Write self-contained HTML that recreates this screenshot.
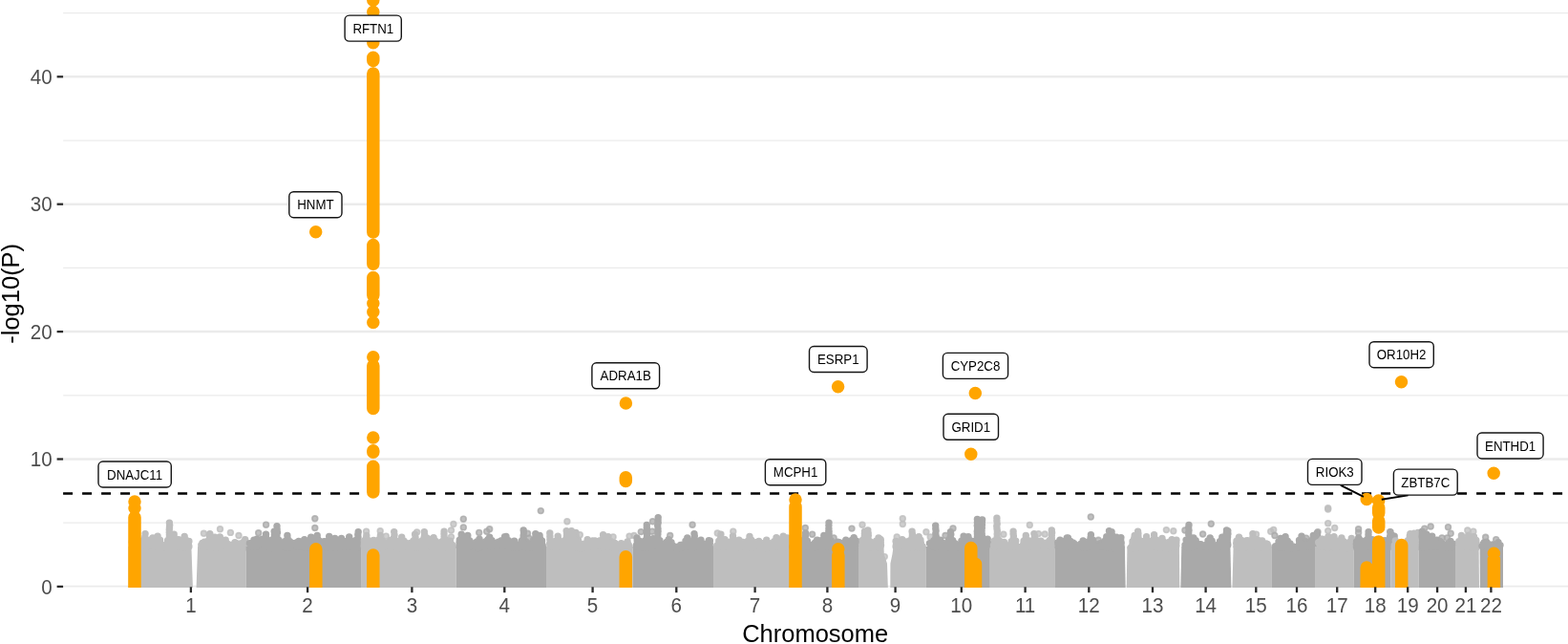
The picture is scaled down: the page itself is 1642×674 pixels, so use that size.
<!DOCTYPE html>
<html lang="en">
<head>
<meta charset="utf-8">
<title>Manhattan plot</title>
<style>
html,body{margin:0;padding:0;background:#fff;overflow:hidden}
svg{display:block}
text{font-family:"Liberation Sans",Arial,Helvetica,sans-serif}
.g path{fill:none;stroke-width:7.4px;stroke-linecap:round}
.g circle{r:2.9px;stroke-width:1.6px;stroke-opacity:.8;fill-opacity:.75}
.ax{font-size:20.6px;fill:#4d4d4d}
.ti{font-size:25.5px;fill:#000}
.lb{font-size:13.3px;fill:#000;text-anchor:middle}
.bx{fill:#fff;stroke:#151515;stroke-width:1.4}
</style>
</head>
<body>
<svg width="1642" height="674" viewBox="0 0 1642 674">
<rect width="1642" height="674" fill="#fff"/>
<defs><clipPath id="pc"><rect x="66.1" y="-20" width="1575.9" height="635"/></clipPath><clipPath id="gc"><rect x="66.1" y="-20" width="1575.9" height="634.4"/></clipPath></defs>
<g clip-path="url(#gc)" stroke="#ebebeb" fill="none">
<line x1="66.1" x2="1642" y1="547.2" y2="547.2" stroke-width="1.25"/>
<line x1="66.1" x2="1642" y1="413.8" y2="413.8" stroke-width="1.25"/>
<line x1="66.1" x2="1642" y1="280.4" y2="280.4" stroke-width="1.25"/>
<line x1="66.1" x2="1642" y1="147" y2="147" stroke-width="1.25"/>
<line x1="66.1" x2="1642" y1="13.6" y2="13.6" stroke-width="1.25"/>
<line x1="66.1" x2="1642" y1="613.9" y2="613.9" stroke-width="2.5"/>
<line x1="66.1" x2="1642" y1="480.5" y2="480.5" stroke-width="2.5"/>
<line x1="66.1" x2="1642" y1="347.1" y2="347.1" stroke-width="2.5"/>
<line x1="66.1" x2="1642" y1="213.7" y2="213.7" stroke-width="2.5"/>
<line x1="66.1" x2="1642" y1="80.3" y2="80.3" stroke-width="2.5"/>
</g>
<g clip-path="url(#pc)" class="g">
<path d="M134.5 572H200.4L202 617H134.5ZM207.1 572H257.7L257.7 617H205.5Z" style="fill:#bebebe;stroke:none"/>
<path d="M138.2 567.3h0M139.3 570.6h0M140.4 569.4h0M141.5 570.2h0M142.6 568.6h0M143.7 569.5h0M144.8 569.6h0M145.9 569.7h0M147 570.3h0M148.1 569.1h0M149.2 569h0M150.3 570.3h0M151.4 567.2h0M152.5 570.7h0M153.6 570.1h0M154.7 566.3h0M155.8 569.5h0M156.9 569.7h0M158 568.2h0M159.1 569.4h0M160.2 570.1h0M161.3 569.9h0M162.4 569.3h0M163.5 569.4h0M164.6 571.5h0M165.7 571.9h0M166.8 572.2h0M167.9 569h0M169 570.3h0M170.1 573.3h0M171.2 573.1h0M172.3 572.1h0M173.4 572.5h0M174.5 572.1h0M175.6 572.4h0M176.7 571.9h0M177.8 568.9h0M178.9 569.7h0M180 570.1h0M181.1 571.1h0M182.2 570.9h0M183.3 571h0M184.4 571.2h0M185.5 571.8h0M186.6 570h0M187.7 571.9h0M188.8 571h0M189.9 572.1h0M191 571.7h0M192.1 569h0M193.2 570.8h0M194.3 571.1h0M195.4 569.7h0M196.5 566.3h0M196.7 572h0M210.8 570.5h0M211.9 568.4h0M213 571.6h0M214.1 567.1h0M215.2 569.8h0M216.3 571.2h0M217.4 570.5h0M218.5 571.9h0M219.6 569h0M220.7 571.3h0M221.8 572.2h0M222.9 569.9h0M224 571.6h0M225.1 569.7h0M226.2 570.1h0M227.3 571h0M228.4 569.2h0M229.5 570.2h0M230.6 569.4h0M231.7 566.8h0M232.8 567.9h0M233.9 569.1h0M235 567.9h0M236.1 569.1h0M237.2 569.9h0M238.3 570.4h0M239.4 570.9h0M240.5 570.1h0M241.6 571.6h0M242.7 571h0M243.8 571.4h0M244.9 570.3h0M246 567.8h0M247.1 572.2h0M248.2 571.8h0M249.3 569.2h0M250.4 570.6h0M251.5 569h0M252.6 570h0M253.7 571.9h0M254 572h0M152.1 558.6h0M151.8 561.8h0M151.7 564.1h0M152.2 567.4h0M152 570h0M152.2 572.6h0M150 565.5h0M149.6 567.7h0M150 570.8h0M154 565.5h0M154.2 568.7h0M154.1 571.8h0M159.9 562.9h0M159.8 565.4h0M159.6 567.9h0M159.9 571h0M157.8 565.3h0M157.9 567.7h0M157.5 570.3h0M162.3 566.4h0M162.1 568.8h0M162.3 571.1h0M165.1 561.1h0M165.2 563.7h0M165.4 566.7h0M165.6 569.5h0M165.2 572.1h0M163 566.1h0M163.1 568.5h0M162.9 571.8h0M167.5 565.3h0M167.5 567.8h0M167.8 570h0M167.8 572.5h0M177.4 547.1h0M177.7 549.6h0M177.5 551.9h0M177.3 554.2h0M177.3 557.2h0M177.4 559.8h0M177.4 562.2h0M177.5 565.5h0M177.4 568.7h0M177.6 571.7h0M175.6 565.8h0M175.1 568.4h0M175.5 571.4h0M179.5 566.8h0M179.6 569.3h0M179.7 571.6h0M182.2 559.2h0M182.6 562.6h0M182.6 565.3h0M182.1 567.6h0M182.1 570.8h0M180 566.4h0M180.3 569.8h0M180.1 572.1h0M184.3 566.4h0M184.4 569.1h0M184.8 571.5h0M187 564.7h0M187.2 567.6h0M187.3 570.7h0M184.9 568.2h0M185.3 571.4h0M189.6 567.8h0M189.3 570.2h0M189.7 572.6h0M193.2 561.4h0M193.4 564.6h0M193.4 567.6h0M193.5 569.9h0M193.4 572.8h0M191.4 565.3h0M191.4 568.3h0M191.1 571.6h0M195.4 565.6h0M195.6 568.9h0M195.8 571.5h0M197.9 566.5h0M197.4 569.3h0M197.9 572h0M195.4 569.8h0M214.2 568h0M214.1 571.3h0M211.7 571.3h0M216.5 571.2h0M219.8 558.6h0M219.4 560.9h0M219.7 563.1h0M219.4 565.9h0M219.3 568.8h0M219.3 572.2h0M217.4 566.4h0M217.6 568.6h0M217.6 571.1h0M221.5 566.8h0M221.8 570.1h0M225 562.3h0M225.3 564.7h0M224.9 567.9h0M225.2 570.4h0M224.8 572.8h0M223 566.3h0M223 568.9h0M222.8 572h0M227 566.6h0M227.1 569.4h0M227.1 572h0M230.3 561.9h0M230.6 565.1h0M230.3 567.4h0M230.7 570.8h0M228.6 566.7h0M228.1 569.6h0M228.3 572.8h0M232.5 565.2h0M232.9 568.3h0M232.4 570.7h0M236.2 565.3h0M235.9 568.7h0M235.9 571.1h0M233.5 568.9h0M233.9 571.3h0M238.3 569.2h0M238.1 571.7h0M256.7 564.7h0M256.7 567.1h0M256.7 570.3h0M256.9 572.9h0M254.4 567.8h0M254.6 570.8h0" stroke="#bebebe"/>
<g fill="#bebebe" stroke="#bebebe"><circle cx="213.4" cy="558.3" r="2.9"/><circle cx="230.5" cy="553.8" r="2.9"/><circle cx="241.4" cy="557.4" r="2.9"/><circle cx="250" cy="560.5" r="2.9"/></g>
<path d="M257.7 572H378.7L378.7 617H257.7Z" style="fill:#a9a9a9;stroke:none"/>
<path d="M261.4 568.6h0M262.5 569.2h0M263.6 569h0M264.7 568.2h0M265.8 570.3h0M266.9 569.4h0M268 568.3h0M269.1 564.1h0M270.2 567.9h0M271.3 568.9h0M272.4 569h0M273.5 568.9h0M274.6 564.3h0M275.7 569.7h0M276.8 570h0M277.9 569.5h0M279 571.1h0M280.1 570h0M281.2 570.8h0M282.3 567.6h0M283.4 569.4h0M284.5 573.4h0M285.6 573.8h0M286.7 573.4h0M287.8 570.5h0M288.9 573.4h0M290 572.4h0M291.1 572.9h0M292.2 572.6h0M293.3 572.5h0M294.4 572.1h0M295.5 567.9h0M296.6 571.1h0M297.7 570.3h0M298.8 572.6h0M299.9 571.4h0M301 572.9h0M302.1 573h0M303.2 572h0M304.3 571h0M305.4 569h0M306.5 569.6h0M307.6 568.6h0M308.7 568.4h0M309.8 568.7h0M310.9 568h0M312 569.7h0M313.1 570.6h0M314.2 569.7h0M315.3 571.2h0M316.4 571.9h0M317.5 570h0M318.6 570.5h0M319.7 573.1h0M320.8 573.1h0M321.9 573.2h0M323 573h0M324.1 572.9h0M325.2 572.7h0M326.3 571.8h0M327.4 570.6h0M328.5 571.5h0M329.6 571.9h0M330.7 569.4h0M331.8 572h0M332.9 566.2h0M334 571.2h0M335.1 569.1h0M336.2 568.8h0M337.3 571.5h0M338.4 569.2h0M339.5 566.8h0M340.6 570.4h0M341.7 569.2h0M342.8 569h0M343.9 570.3h0M345 569.1h0M346.1 569h0M347.2 569h0M348.3 567.6h0M349.4 568.9h0M350.5 568.6h0M351.6 568.9h0M352.7 568.7h0M353.8 570.7h0M354.9 569.9h0M356 570.8h0M357.1 570.6h0M358.2 569.8h0M359.3 571.7h0M360.4 568.7h0M361.5 568.3h0M362.6 571.5h0M363.7 569.4h0M364.8 571.2h0M365.9 571.4h0M367 571.4h0M368.1 569.5h0M369.2 571h0M370.3 572.3h0M371.4 571.7h0M372.5 570.9h0M373.6 572.6h0M374.7 572.8h0M375 572h0M265.9 565.3h0M265.8 567.9h0M265.6 571.1h0M263.6 569.2h0M263.3 572h0M268 569.2h0M268 572h0M278.5 559.2h0M278.5 562.5h0M278.7 564.8h0M278.6 568.1h0M278.7 570.9h0M276.2 565.2h0M276.3 567.5h0M276.5 570.9h0M280.8 565.8h0M280.9 568.6h0M280.6 571.8h0M287.2 556.2h0M287.4 559.2h0M287.3 562h0M287 564.5h0M287.1 566.9h0M287.4 569.7h0M287 572.1h0M284.8 565.3h0M285.1 567.7h0M285.2 569.9h0M289.4 565.7h0M289.5 568.1h0M289.5 570.4h0M290 550.7h0M290.1 553.9h0M290.5 557.2h0M289.9 560h0M290 562.6h0M290.1 565.6h0M290.2 568.3h0M290.2 570.5h0M288.1 566.3h0M287.8 568.5h0M287.9 571.7h0M292.1 565.5h0M292.4 568.1h0M292.6 570.9h0M300.9 560.5h0M301.1 563.2h0M301.4 566.2h0M301.3 568.8h0M300.9 571.8h0M299.1 566.3h0M299.1 568.8h0M299.2 571.7h0M303.5 566.7h0M303.5 569.3h0M303.3 572.2h0M312.8 566.5h0M312.7 569.9h0M312.8 572.3h0M310.3 569.8h0M310.5 572h0M315 569.8h0M315.1 572.1h0M318.8 564.7h0M318.5 567.3h0M318.7 570.4h0M316.6 568.3h0M316.8 571.1h0M320.9 568h0M320.9 571.3h0M325.7 562.3h0M325.6 564.9h0M325.4 567.6h0M325.6 570.2h0M323.4 566.4h0M323.5 569.3h0M323.6 572.1h0M327.5 566.7h0M328 569.3h0M327.6 572h0M332.2 560.5h0M332.6 563.7h0M332.5 567h0M332.4 569.5h0M332.7 572.1h0M330.5 566.7h0M330.2 569.2h0M330.4 572.2h0M334.9 566.4h0M334.3 569.6h0M334.9 572.7h0M344.7 561.4h0M344.8 564.5h0M344.7 567.2h0M344.6 569.5h0M344.7 572.5h0M342.5 566.4h0M342.4 569.3h0M342.4 572.7h0M347.1 565.8h0M346.5 568.9h0M346.6 572.2h0M350.7 563.5h0M350.4 566.3h0M350.5 569.4h0M350.5 572.5h0M348.7 566.7h0M348.6 569.7h0M348.8 572.6h0M352.9 566.5h0M353 569.3h0M353 571.6h0M357.5 563.5h0M357.5 565.7h0M357.1 569.1h0M357.4 571.3h0M355.1 567.4h0M355.3 569.7h0M355 572.8h0M359.6 566.3h0M359.7 569.1h0M359.8 572.1h0M365.7 561.9h0M365.8 564.7h0M366.2 566.9h0M365.7 569.9h0M365.8 572.2h0M363.7 566.8h0M363.9 570.1h0M368 566.3h0M368.3 569h0M368.3 572h0M375.2 556.8h0M374.8 559.5h0M375 562.2h0M374.8 564.8h0M374.8 567.2h0M374.9 569.6h0M375.1 572h0M372.7 565.5h0M373.1 568.5h0M373 571.6h0" stroke="#a9a9a9"/>
<g fill="#a9a9a9" stroke="#a9a9a9"><circle cx="270.7" cy="557.8" r="2.9"/><circle cx="278.6" cy="549.2" r="2.9"/><circle cx="329.8" cy="542.8" r="2.9"/><circle cx="329.8" cy="552.5" r="2.9"/></g>
<path d="M378.7 572H477.6L477.6 617H378.7Z" style="fill:#bebebe;stroke:none"/>
<path d="M382.4 569.9h0M383.5 573h0M384.6 570.8h0M385.7 570.8h0M386.8 573h0M387.9 572.3h0M389 571.4h0M390.1 572.2h0M391.2 565.4h0M392.3 571.3h0M393.4 571.3h0M394.5 571.9h0M395.6 571h0M396.7 569.4h0M397.8 571.1h0M398.9 572.5h0M400 572.7h0M401.1 572.6h0M402.2 572.1h0M403.3 569.3h0M404.4 567.9h0M405.5 570h0M406.6 571.2h0M407.7 570h0M408.8 565.5h0M409.9 570.1h0M411 567.2h0M412.1 568.4h0M413.2 569.9h0M414.3 570.9h0M415.4 569.2h0M416.5 571.9h0M417.6 571.8h0M418.7 572.5h0M419.8 573.7h0M420.9 572.6h0M422 572.1h0M423.1 571.7h0M424.2 568h0M425.3 570.5h0M426.4 572.4h0M427.5 569.5h0M428.6 568.6h0M429.7 572.1h0M430.8 569.9h0M431.9 571.3h0M433 573h0M434.1 572.7h0M435.2 570.7h0M436.3 571.5h0M437.4 572.8h0M438.5 570.1h0M439.6 571.7h0M440.7 572.3h0M441.8 567h0M442.9 570h0M444 566.9h0M445.1 567.8h0M446.2 569.4h0M447.3 563.2h0M448.4 569.2h0M449.5 567.5h0M450.6 569h0M451.7 565.5h0M452.8 565.9h0M453.9 568h0M455 570.9h0M456.1 571.6h0M457.2 570.1h0M458.3 571.7h0M459.4 571.2h0M460.5 571.2h0M461.6 571.1h0M462.7 571.2h0M463.8 571h0M464.9 571.4h0M466 570.7h0M467.1 568.8h0M468.2 570.5h0M469.3 568.7h0M470.4 572.2h0M471.5 566.3h0M472.6 571.1h0M473.7 570.5h0M473.9 572h0M383.8 560.5h0M383.6 562.8h0M383.8 565.9h0M383.4 568.7h0M383.9 571.9h0M381.3 566h0M381.4 568.9h0M381.2 571.4h0M385.9 565.8h0M385.7 568.9h0M385.9 571.1h0M398.4 560.5h0M398.1 562.9h0M398.4 566.2h0M398 569.3h0M398.2 572.3h0M395.8 565.5h0M396 568.8h0M395.8 572.1h0M400.6 566.1h0M400.2 569.4h0M400.2 571.7h0M412.7 556.6h0M413 559.9h0M412.7 562.4h0M413.1 565.7h0M413.1 568.1h0M413 571.2h0M410.4 565.5h0M410.9 568.1h0M410.9 571.1h0M415 566.5h0M415.1 569.7h0M414.9 572.6h0M420.7 562.3h0M420.6 565.5h0M420.6 568h0M420.6 570.3h0M418.8 566.2h0M418.3 568.5h0M418.7 571.6h0M423 566.1h0M423.2 568.5h0M423.1 571.5h0M434.6 559.2h0M435 562.4h0M434.7 565h0M434.8 568.2h0M434.8 571.4h0M432.8 566.3h0M432.6 569.4h0M432.7 572.3h0M436.7 566.6h0M437.1 570h0M437.2 572.3h0M444.3 556.6h0M444.6 559.5h0M444.2 562.2h0M444.3 565.3h0M444.6 568.5h0M444.7 571.2h0M442.3 565.8h0M442.2 569h0M442.1 571.3h0M446.5 566h0M446.4 568.8h0M446.5 571.4h0M454.1 562.6h0M454.4 565.6h0M454.3 568h0M454.3 570.5h0M452.1 566h0M452.2 569.1h0M452 572.3h0M456.3 566.4h0M456.2 569.7h0M456.2 572.2h0M465.1 556.2h0M465 558.7h0M465.1 561.4h0M464.9 564.8h0M465.2 567.6h0M465.4 569.8h0M463.1 566.7h0M463.1 570h0M463.2 572.4h0M467.2 565.5h0M467.5 567.7h0M467.4 570.3h0M467.7 572.8h0" stroke="#bebebe"/>
<g fill="#bebebe" stroke="#bebebe"><circle cx="383.6" cy="556.2" r="2.9"/><circle cx="398.2" cy="555.8" r="2.9"/><circle cx="404.3" cy="561.1" r="2.9"/><circle cx="436.6" cy="557" r="2.9"/><circle cx="474.9" cy="548.5" r="2.9"/><circle cx="472.5" cy="555" r="2.9"/><circle cx="472.5" cy="561.9" r="2.9"/></g>
<path d="M477.6 572H572L572 617H477.6Z" style="fill:#a9a9a9;stroke:none"/>
<path d="M481.3 572.4h0M482.4 572.3h0M483.5 570.6h0M484.6 570.1h0M485.7 570.4h0M486.8 570.9h0M487.9 571h0M489 568.5h0M490.1 567.7h0M491.2 569.8h0M492.3 566.9h0M493.4 570.3h0M494.5 571.1h0M495.6 569h0M496.7 570.8h0M497.8 572.2h0M498.9 572.5h0M500 572.7h0M501.1 573.6h0M502.2 573.1h0M503.3 571.2h0M504.4 571.9h0M505.5 571.9h0M506.6 570.6h0M507.7 569.9h0M508.8 566.7h0M509.9 570.9h0M511 564.6h0M512.1 567.1h0M513.2 569.6h0M514.3 569.1h0M515.4 569.9h0M516.5 569.9h0M517.6 570.2h0M518.7 569.9h0M519.8 570.4h0M520.9 568.3h0M522 567.1h0M523.1 568.9h0M524.2 570.1h0M525.3 565.8h0M526.4 569.4h0M527.5 568.5h0M528.6 568.1h0M529.7 566.3h0M530.8 569.8h0M531.9 569h0M533 569.9h0M534.1 571h0M535.2 569.2h0M536.3 568.2h0M537.4 572.8h0M538.5 572.4h0M539.6 572.8h0M540.7 573.2h0M541.8 573h0M542.9 570.7h0M544 571.2h0M545.1 571.3h0M546.2 571.6h0M547.3 571.3h0M548.4 569.1h0M549.5 570.1h0M550.6 570.9h0M551.7 573.2h0M552.8 573.1h0M553.9 573.2h0M555 571.1h0M556.1 569.3h0M557.2 572.5h0M558.3 572.3h0M559.4 571.9h0M560.5 571.2h0M561.6 570.1h0M562.7 570.1h0M563.8 568.8h0M564.9 568.6h0M566 569.7h0M567.1 566.1h0M568.2 570.9h0M568.3 572h0M483.2 559.2h0M483.2 562.6h0M483.5 565.3h0M483.4 568.3h0M483.6 571.6h0M481.3 565.3h0M481.1 567.7h0M481 570.8h0M485.6 566.6h0M485.7 569.5h0M485.9 572.4h0M489.8 560.5h0M489.7 563.4h0M489.6 566h0M489.4 568.6h0M489.6 571h0M487.6 566.8h0M487.4 569h0M487.6 572h0M491.8 566h0M491.5 568.5h0M491.7 571.7h0M502 564.1h0M501.9 567.2h0M501.6 570.1h0M499.4 566.9h0M499.3 569.4h0M499.7 572.7h0M504.1 568h0M504.2 570.5h0M512.7 562.3h0M512.5 565.1h0M512.4 568.1h0M512.6 571h0M510.8 565.7h0M510.5 568.7h0M510.7 571.2h0M515.1 565.8h0M515.1 569.1h0M514.9 571.7h0M528.6 561.7h0M528.7 564.2h0M528.6 567.4h0M528.7 570.6h0M526.4 566h0M526.5 568.8h0M526.3 571.2h0M530.9 565.7h0M530.7 568.3h0M531 571.6h0M530 561.4h0M530 564.5h0M530 567.7h0M530.3 570.8h0M528.1 566.7h0M527.5 569.8h0M532.4 565.8h0M532 568.6h0M531.9 571.8h0M538.6 566.3h0M538.7 569.1h0M538.3 572.3h0M536.3 568.7h0M536.5 571.9h0M541 570.1h0M541 572.8h0M548.2 555h0M548.5 557.3h0M548.2 560.5h0M548.1 562.8h0M548.4 566.2h0M548.3 568.7h0M548.4 571.2h0M546.2 566.3h0M546 568.7h0M546.1 572h0M550.6 566.6h0M550.2 569.1h0M550.6 571.5h0M560.8 558.6h0M560.9 561.2h0M561.1 563.6h0M561.3 566.6h0M561.2 569.5h0M561.3 572.1h0M558.8 565.3h0M559 568.2h0M559.1 571h0M563.4 566.2h0M563.1 569h0M563 571.9h0M565.1 560.5h0M565.4 563.2h0M565.6 566.2h0M565.6 569.5h0M565.6 572.9h0M563.2 566.2h0M563.2 569h0M563.2 571.4h0M567.5 566h0M567.5 568.5h0M567.5 571.6h0" stroke="#a9a9a9"/>
<g fill="#a9a9a9" stroke="#a9a9a9"><circle cx="485.3" cy="543.2" r="2.9"/><circle cx="485.3" cy="551.9" r="2.9"/><circle cx="501.7" cy="557.4" r="2.9"/><circle cx="509.7" cy="556.2" r="2.9"/><circle cx="512.7" cy="553.8" r="2.9"/><circle cx="566.3" cy="534.6" r="2.9"/><circle cx="552.5" cy="558.3" r="2.9"/><circle cx="553.8" cy="563.1" r="2.9"/></g>
<path d="M572 572H662.7L662.7 617H572Z" style="fill:#bebebe;stroke:none"/>
<path d="M575.7 568.9h0M576.8 570.1h0M577.9 569.4h0M579 569.9h0M580.1 567.7h0M581.2 567h0M582.3 568.9h0M583.4 567.5h0M584.5 568.2h0M585.6 566.9h0M586.7 570.6h0M587.8 570.9h0M588.9 569.5h0M590 570.2h0M591.1 571.4h0M592.2 571.6h0M593.3 568.6h0M594.4 570.3h0M595.5 571.1h0M596.6 570.1h0M597.7 571.3h0M598.8 565h0M599.9 571.7h0M601 572.1h0M602.1 571.5h0M603.2 570.9h0M604.3 572.6h0M605.4 573.3h0M606.5 572.4h0M607.6 574.3h0M608.7 572.2h0M609.8 569.5h0M610.9 573.4h0M612 571.8h0M613.1 572.4h0M614.2 571.7h0M615.3 567h0M616.4 570.9h0M617.5 570.8h0M618.6 568h0M619.7 569.1h0M620.8 570.4h0M621.9 569.4h0M623 566h0M624.1 570.1h0M625.2 569.2h0M626.3 570.3h0M627.4 570.2h0M628.5 565.8h0M629.6 570.7h0M630.7 570.6h0M631.8 566.3h0M632.9 570.9h0M634 570.3h0M635.1 570.5h0M636.2 571.2h0M637.3 571.5h0M638.4 567.3h0M639.5 572.2h0M640.6 571.9h0M641.7 572.8h0M642.8 573.1h0M643.9 568.5h0M645 573.5h0M646.1 572.9h0M647.2 572.6h0M648.3 571.8h0M649.4 569.7h0M650.5 568.7h0M651.6 571.2h0M652.7 571h0M653.8 569.6h0M654.9 570.3h0M656 570.4h0M657.1 566.9h0M658.2 570.2h0M659 572h0M575.8 558h0M575.9 561.4h0M575.9 564.6h0M576.1 567.4h0M575.8 570.6h0M578 566.6h0M578.1 568.9h0M578.4 572h0M584.2 561.1h0M584.4 563.5h0M584 566.8h0M584.3 569.2h0M583.9 572h0M582.2 566.3h0M581.8 569.4h0M582 572.4h0M586.2 566.8h0M586.2 569.8h0M593.2 555.6h0M593.5 557.9h0M593.5 561.2h0M593.3 563.6h0M593.3 566.2h0M593.3 568.5h0M593.2 571.1h0M591.4 565.7h0M590.9 569.1h0M591.2 571.3h0M595.7 566.8h0M595.4 569.2h0M595.3 572.5h0M598.4 555.6h0M598.3 558h0M598.3 560.5h0M598.1 563h0M598.4 566.2h0M597.9 568.6h0M598.2 571.6h0M596 566.6h0M595.8 569.7h0M596 572.5h0M600.2 565.7h0M600.6 568.7h0M600.3 572h0M603 557.4h0M603.1 560.4h0M603.3 562.6h0M603.4 565.7h0M602.9 568.8h0M602.9 571.4h0M601 566.7h0M601 569.5h0M600.9 572h0M605.5 565.2h0M605.1 567.6h0M605.3 570.9h0M615.2 564.7h0M615.2 567.9h0M615.3 571h0M613.2 568.6h0M613.1 571.1h0M617.2 568.6h0M617.4 571.9h0M620.8 565.9h0M620.9 568.9h0M620.5 572h0M618.5 569.1h0M618.6 572.1h0M622.8 568.8h0M623 572.2h0M631.6 559.8h0M631.8 562.1h0M631.4 565.5h0M631.8 568.2h0M631.9 570.5h0M631.8 573h0M629.8 565.8h0M629.8 568h0M629.4 570.7h0M633.7 566.4h0M633.7 568.7h0M634.2 571h0M636.9 561.7h0M637.1 564.5h0M637.4 567.4h0M637.1 569.9h0M634.9 566.3h0M635.1 568.5h0M634.8 571.1h0M639.5 566.8h0M639.5 569.2h0M639.2 571.4h0" stroke="#bebebe"/>
<g fill="#bebebe" stroke="#bebebe"><circle cx="593.9" cy="545.8" r="2.9"/><circle cx="607.3" cy="559.8" r="2.9"/><circle cx="642.1" cy="561.9" r="2.9"/><circle cx="659.1" cy="561.1" r="2.9"/><circle cx="664" cy="560.5" r="2.9"/></g>
<path d="M662.7 572H747L747 617H662.7Z" style="fill:#a9a9a9;stroke:none"/>
<path d="M666.4 570.6h0M667.5 572.2h0M668.6 569.6h0M669.7 572.3h0M670.8 571.7h0M671.9 573.3h0M673 571.2h0M674.1 570.7h0M675.2 572.6h0M676.3 570.8h0M677.4 569.9h0M678.5 570.7h0M679.6 571.4h0M680.7 570.2h0M681.8 568.4h0M682.9 567.9h0M684 563.8h0M685.1 569.9h0M686.2 569.1h0M687.3 569.2h0M688.4 571.5h0M689.5 570.7h0M690.6 572.5h0M691.7 571.7h0M692.8 573.1h0M693.9 572.8h0M695 570.4h0M696.1 572.5h0M697.2 568.7h0M698.3 572.1h0M699.4 570.9h0M700.5 571h0M701.6 571.9h0M702.7 569.9h0M703.8 571.1h0M704.9 571.7h0M706 572.3h0M707.1 572.3h0M708.2 574h0M709.3 573h0M710.4 573.4h0M711.5 573.7h0M712.6 570.5h0M713.7 572.7h0M714.8 570.1h0M715.9 571.5h0M717 570.5h0M718.1 570.1h0M719.2 565.1h0M720.3 569.7h0M721.4 566.7h0M722.5 570h0M723.6 567.6h0M724.7 566.4h0M725.8 570.6h0M726.9 570.2h0M728 570.1h0M729.1 570.9h0M730.2 569.9h0M731.3 571.2h0M732.4 571.1h0M733.5 571h0M734.6 570.8h0M735.7 569.2h0M736.8 570.2h0M737.9 570.7h0M739 570.7h0M740.1 570.2h0M741.2 568.1h0M742.3 565.8h0M743.3 572h0M667 562.9h0M667.2 566h0M667.3 568.4h0M667.1 570.8h0M669.5 566.1h0M668.9 568.9h0M669.3 571.4h0M677.3 549.5h0M677.3 551.9h0M677.5 554.5h0M677.2 557h0M677.6 560h0M677.4 562.4h0M677.3 564.7h0M677.7 567.4h0M677.2 570.2h0M675.4 565.9h0M675.2 568.2h0M675.2 571.1h0M679.3 566.5h0M679.5 569.3h0M679.6 572.5h0M689.2 541.6h0M689.1 544h0M689.2 547h0M688.7 550.1h0M689 553.4h0M689.1 555.9h0M688.9 558.9h0M688.7 561.9h0M688.7 564.8h0M688.8 567.8h0M688.7 570.5h0M686.5 565.6h0M686.9 568.1h0M686.9 570.9h0M690.9 565.7h0M691.2 568.3h0M691 570.7h0M700.2 564.7h0M700.7 567.4h0M700.5 570.3h0M698.3 567.2h0M698.1 569.5h0M698.4 572.3h0M703 567.8h0M702.7 571.1h0M719.8 562.9h0M720.3 566.3h0M720.2 569.2h0M720.3 571.7h0M718 566.1h0M717.8 568.7h0M717.7 571.3h0M722.3 565.9h0M722.3 569.1h0M722.1 571.3h0M727 558.6h0M727.3 561h0M727.3 564.1h0M727.5 566.9h0M727.1 569.4h0M727.2 572.6h0M725.2 566.2h0M725 569.2h0M725.3 571.8h0M729.8 566.7h0M729.3 569.2h0M729.4 572h0M734 565.3h0M734.4 568.3h0M734.3 570.8h0M732.4 568.8h0M731.8 572.1h0M736.3 569.2h0M736.5 571.9h0M743.4 565.9h0M743.3 568.7h0M743.2 571.7h0M741 568.9h0M741.4 571.9h0" stroke="#a9a9a9"/>
<g fill="#a9a9a9" stroke="#a9a9a9"><circle cx="671.3" cy="556.6" r="2.9"/><circle cx="683.5" cy="545.8" r="2.9"/><circle cx="682.9" cy="556.2" r="2.9"/><circle cx="725.1" cy="549.2" r="2.9"/><circle cx="701.7" cy="560.5" r="2.9"/></g>
<path d="M747 572H826.2L826.2 617H747Z" style="fill:#bebebe;stroke:none"/>
<path d="M750.7 571.2h0M751.8 571.1h0M752.9 569.5h0M754 567.9h0M755.1 570.3h0M756.2 570.7h0M757.3 569.8h0M758.4 571.1h0M759.5 570h0M760.6 569.1h0M761.7 572.2h0M762.8 568.8h0M763.9 572h0M765 571.7h0M766.1 572.5h0M767.2 572.4h0M768.3 568.8h0M769.4 571.2h0M770.5 569.1h0M771.6 570.5h0M772.7 568.2h0M773.8 568.2h0M774.9 567.9h0M776 570.1h0M777.1 567.3h0M778.2 570.6h0M779.3 570h0M780.4 570.6h0M781.5 569.5h0M782.6 570.6h0M783.7 571.4h0M784.8 569.2h0M785.9 571.2h0M787 569.9h0M788.1 569.6h0M789.2 570.6h0M790.3 567.8h0M791.4 568.4h0M792.5 567.4h0M793.6 571.2h0M794.7 566.5h0M795.8 572.4h0M796.9 572.8h0M798 573.4h0M799.1 573.6h0M800.2 574h0M801.3 569.5h0M802.4 571.6h0M803.5 571.9h0M804.6 573h0M805.7 572.7h0M806.8 569.9h0M807.9 571.7h0M809 571.9h0M810.1 570.9h0M811.2 571.2h0M812.3 571.9h0M813.4 570.2h0M814.5 571.1h0M815.6 571.2h0M816.7 568h0M817.8 572.4h0M818.9 568.5h0M820 571.6h0M821.1 570.6h0M822.2 571.4h0M822.5 572h0M754.9 559.2h0M754.7 562.6h0M755 565.6h0M755 569h0M754.9 571.5h0M752.8 566.2h0M752.6 569.3h0M752.8 572.2h0M756.9 565.9h0M757.1 568.4h0M757.4 571.4h0M759.1 564.7h0M759.1 567.8h0M759.5 571.1h0M757.2 568.3h0M757.2 570.8h0M761.4 568.4h0M761.2 570.6h0M767.5 561.1h0M768 564.2h0M767.5 566.5h0M767.9 569h0M767.7 571.3h0M765.6 566.7h0M765.5 569h0M765.3 572.1h0M770.1 566.7h0M769.9 570h0M770.1 572.3h0M773.9 565.3h0M774 567.7h0M774 570.2h0M773.7 572.5h0M771.7 568.6h0M771.8 572h0M775.9 567.7h0M776.3 570.1h0M775.9 572.6h0M785 561.4h0M784.7 564.5h0M785 566.9h0M784.6 569.3h0M784.5 572.2h0M782.6 566.8h0M782.7 569.5h0M782.8 572.5h0M786.8 565.3h0M786.8 567.8h0M786.7 570.2h0M787 572.9h0M802.7 565.3h0M802.7 567.8h0M802.2 570.5h0M800.3 568.5h0M800.3 571.8h0M804.6 568.2h0M804.6 570.7h0M813 562.6h0M812.8 565.7h0M812.9 568.7h0M813.1 571.3h0M810.7 566.6h0M810.7 569.7h0M810.8 572.4h0M814.9 565.5h0M814.8 567.9h0M815.1 570.4h0M820.2 561.1h0M820.1 563.9h0M820.3 567.2h0M820.4 570h0M820.2 572.9h0M817.8 565.8h0M818.2 568h0M817.7 571.4h0M822.5 565.6h0M822.2 568.5h0M822.5 570.7h0M824.4 562.9h0M824.6 565.3h0M824.2 568h0M824.6 570.8h0M822.5 565.4h0M822.1 567.9h0M822.1 570.1h0M822 572.5h0" stroke="#bebebe"/>
<g fill="#bebebe" stroke="#bebebe"><circle cx="751.3" cy="558" r="2.9"/><circle cx="767.8" cy="556.2" r="2.9"/></g>
<path d="M826.2 572H899L899 617H826.2Z" style="fill:#a9a9a9;stroke:none"/>
<path d="M829.9 571.6h0M831 567.7h0M832.1 569.9h0M833.2 569.6h0M834.3 566.1h0M835.4 567.9h0M836.5 569.2h0M837.6 568.5h0M838.7 569.8h0M839.8 569.8h0M840.9 566.7h0M842 568.4h0M843.1 570.1h0M844.2 568.3h0M845.3 571.6h0M846.4 570h0M847.5 570.3h0M848.6 570.1h0M849.7 571.2h0M850.8 573h0M851.9 569.9h0M853 571.6h0M854.1 572.5h0M855.2 566h0M856.3 569h0M857.4 571h0M858.5 571.2h0M859.6 569.7h0M860.7 569.9h0M861.8 566.8h0M862.9 571h0M864 571.5h0M865.1 571.4h0M866.2 571.3h0M867.3 570.7h0M868.4 567h0M869.5 570.9h0M870.6 570.9h0M871.7 567.9h0M872.8 570h0M873.9 569.8h0M875 569.9h0M876.1 568.7h0M877.2 567.1h0M878.3 567.5h0M879.4 569.8h0M880.5 569.7h0M881.6 568.4h0M882.7 572h0M883.8 573.1h0M884.9 573.7h0M886 572.1h0M887.1 571.4h0M888.2 573h0M889.3 573h0M890.4 572.5h0M891.5 572.8h0M892.6 569.7h0M893.7 572.7h0M894.8 570.2h0M895.3 572h0M843.6 558h0M843.4 561.1h0M843 563.6h0M843.5 566h0M843.1 568.8h0M843.2 571.6h0M840.9 565.7h0M841.3 568.3h0M841.3 571h0M845.4 566.2h0M845.6 568.6h0M845.3 571.4h0M855.7 565.3h0M855.2 568.6h0M855.6 571.4h0M853.4 568.2h0M853.4 571.4h0M857.7 569.2h0M857.9 571.5h0M862.8 560.5h0M863 563.2h0M862.5 566.1h0M862.6 569.2h0M862.7 572.4h0M860.5 565.5h0M860.4 568.5h0M860.7 571.2h0M864.9 565.7h0M864.8 568.3h0M864.9 571.1h0M868 547.1h0M867.9 549.9h0M867.9 553.1h0M867.8 556h0M867.9 559.2h0M868.2 562.3h0M868.1 564.9h0M867.6 567.2h0M868 570.5h0M865.9 565.3h0M865.6 568.2h0M865.8 570.8h0M870.2 565.8h0M870.1 568h0M870.1 571.1h0M868.1 556.2h0M868.1 558.8h0M868.2 561.6h0M868.4 564.4h0M868.1 567.1h0M868.3 570.5h0M865.9 566h0M866.2 569.2h0M866 572.1h0M870.2 566.7h0M870.4 569h0M870.6 572.2h0M885.8 565.3h0M885.7 568.6h0M885.6 571.6h0M883.8 568.7h0M883.9 571.9h0M888.2 569h0M888.3 571.9h0M894.2 562.6h0M894.7 565.2h0M894.5 568.1h0M894.6 570.9h0M892 565.4h0M892.2 568.7h0M892.2 571.7h0M896.8 566.2h0M896.9 568.6h0M896.9 571.7h0" stroke="#a9a9a9"/>
<g fill="#a9a9a9" stroke="#a9a9a9"><circle cx="843.3" cy="552.5" r="2.9"/><circle cx="850.6" cy="559.2" r="2.9"/><circle cx="892" cy="553.1" r="2.9"/><circle cx="873.1" cy="562.9" r="2.9"/></g>
<path d="M899 572H925.5L925.8 580.3L929 589.8L929.9 617H899ZM935.6 572H969.8L969.8 617H932.3L932.4 589.8L934.4 580.3Z" style="fill:#bebebe;stroke:none"/>
<path d="M902.7 570.5h0M903.8 569.7h0M904.9 569.3h0M906 570.7h0M907.1 567h0M908.2 571h0M909.3 572.1h0M910.4 568.3h0M911.5 571.9h0M912.6 573.1h0M913.7 569.7h0M914.8 573h0M915.9 572.4h0M917 569.3h0M918.1 571.8h0M919.2 568.5h0M920.3 569.4h0M921.4 571.8h0M921.8 572h0M939.3 568.9h0M940.4 567.4h0M941.5 569.4h0M942.6 568.8h0M943.7 567.2h0M944.8 564.7h0M945.9 571h0M947 569.7h0M948.1 567.9h0M949.2 571.2h0M950.3 566.8h0M951.4 569.7h0M952.5 571.4h0M953.6 571.7h0M954.7 569.7h0M955.8 570.5h0M956.9 571.1h0M958 572.1h0M959.1 570.8h0M960.2 571.9h0M961.3 571.9h0M962.4 573.1h0M963.5 572.5h0M964.6 573.1h0M965.7 572.9h0M966.1 572h0M905.5 556.2h0M905.4 558.7h0M905.3 561.6h0M905.2 564.1h0M905.3 566.7h0M905.6 569.5h0M905.6 571.9h0M903.2 565.4h0M903.3 567.8h0M903 570h0M903.3 573h0M907.5 566.7h0M907.3 569.3h0M907.8 572.4h0M908.8 555h0M909.2 558.1h0M909.3 560.5h0M909 562.9h0M909 565.7h0M908.9 568.2h0M909.2 570.5h0M906.6 566.1h0M906.6 569.4h0M907.1 572.6h0M911 566.7h0M911.2 570.1h0M911.4 572.7h0M920 562.9h0M919.8 565.8h0M920.1 569h0M920 571.3h0M917.6 566.1h0M917.6 568.6h0M918 571h0M922.3 565.3h0M922.3 567.7h0M921.9 570.9h0M922.2 564.7h0M922.3 567.8h0M922.5 570.6h0M920.1 567.2h0M920.4 569.6h0M920.5 572.7h0M921.6 564.1h0M921.6 566.8h0M921.6 569.2h0M921.9 571.4h0M919.5 567.9h0M919.5 570.8h0M938.1 566.5h0M938.5 569.5h0M938.1 572h0M940.2 569h0M940.4 571.8h0M946.8 567.8h0M947 570.1h0M944.9 570.4h0M949 571.1h0M955.1 556.2h0M955.4 559h0M955.3 561.4h0M955.6 563.9h0M955.1 567.3h0M955.2 570.3h0M955.5 572.9h0M953 565.6h0M953.1 568.1h0M953.3 570.8h0M957.6 565.9h0M957.8 568.1h0M957.7 571h0M962.2 561.7h0M962.3 564.9h0M961.8 568h0M962.2 570.9h0M959.6 565.7h0M960 569h0M959.6 571.5h0M964 565.3h0M964.3 568.1h0M964.5 570.7h0" stroke="#bebebe"/>
<g fill="#bebebe" stroke="#bebebe"><circle cx="903" cy="549.2" r="2.9"/><circle cx="945.3" cy="542.8" r="2.9"/><circle cx="945.3" cy="548.5" r="2.9"/><circle cx="939.2" cy="561.9" r="2.9"/><circle cx="969.9" cy="556.8" r="2.9"/><circle cx="974.2" cy="561.9" r="2.9"/><circle cx="926.3" cy="582.6" r="2.9"/></g>
<path d="M969.8 572H1036.8L1036.8 617H969.8Z" style="fill:#a9a9a9;stroke:none"/>
<path d="M973.5 568.7h0M974.6 568.8h0M975.7 570.6h0M976.8 571.8h0M977.9 565.8h0M979 571.7h0M980.1 572.3h0M981.2 569h0M982.3 571.2h0M983.4 571.4h0M984.5 570.8h0M985.6 569.8h0M986.7 570.9h0M987.8 570.1h0M988.9 568.7h0M990 571.4h0M991.1 568.7h0M992.2 572.1h0M993.3 572.8h0M994.4 571.5h0M995.5 572.6h0M996.6 574h0M997.7 573.7h0M998.8 573.8h0M999.9 568.6h0M1001 571.8h0M1002.1 572.6h0M1003.2 571.1h0M1004.3 572.6h0M1005.4 571.6h0M1006.5 571.1h0M1007.6 571.7h0M1008.7 569h0M1009.8 568.2h0M1010.9 570.9h0M1012 571.4h0M1013.1 570.3h0M1014.2 571.7h0M1015.3 571.7h0M1016.4 571.5h0M1017.5 570.2h0M1018.6 570.4h0M1019.7 570h0M1020.8 568.7h0M1021.9 565.7h0M1023 566.6h0M1024.1 569.3h0M1025.2 568.4h0M1026.3 567.1h0M1027.4 570h0M1028.5 566h0M1029.6 565.3h0M1030.7 568.3h0M1031.8 567.2h0M1032.9 565.8h0M1033.1 572h0M979.7 550.1h0M979.8 553.2h0M980.1 555.6h0M979.8 558.6h0M980.2 561.2h0M979.7 563.7h0M979.7 566.1h0M980.2 569.3h0M979.9 572.6h0M977.7 566.3h0M977.4 569.1h0M977.5 572h0M982.1 565.5h0M982 568.2h0M982.3 570.5h0M984.7 565.3h0M984.8 567.6h0M984.7 569.9h0M984.6 572.6h0M982.2 568.8h0M982.3 571.8h0M987.1 568.1h0M987 570.5h0M986.6 572.9h0M995.4 556.8h0M995.8 559.3h0M995.3 561.7h0M995.6 564.6h0M995.5 567.4h0M995.5 570.6h0M993.4 565.5h0M993.4 568h0M993.6 570.5h0M997.7 565.8h0M997.7 568.6h0M997.4 570.9h0M1009.1 561.1h0M1009.1 563.4h0M1009.1 565.9h0M1009 569h0M1009.2 571.7h0M1006.9 566.2h0M1006.9 568.6h0M1007 571.7h0M1011.4 566.1h0M1011.3 568.9h0M1010.8 571.6h0M1014 561.7h0M1013.8 564.2h0M1013.6 567.2h0M1014 570.1h0M1011.7 566h0M1011.8 568.9h0M1011.7 571.3h0M1016 565.7h0M1015.8 568.9h0M1015.8 571.8h0M1023.4 543.4h0M1023.4 546.7h0M1023.3 550.1h0M1023.6 553.3h0M1023.3 556.3h0M1023.4 558.8h0M1023.4 561.4h0M1023.8 564.4h0M1023.6 567.7h0M1023.5 570h0M1023.7 573h0M1021.5 566.6h0M1021.3 569.6h0M1021.4 572.9h0M1025.7 566.1h0M1025.5 568.8h0M1025.5 571.4h0M1028.6 544h0M1028.4 546.2h0M1028.4 549.3h0M1028.3 552.6h0M1028.1 555.6h0M1028.2 558.8h0M1028.5 561.8h0M1028.1 564.1h0M1028.3 567h0M1028.6 569.4h0M1028.3 572.5h0M1026 566.3h0M1025.9 569.1h0M1025.9 571.9h0M1030.5 565.2h0M1030.6 567.9h0M1030.4 570.2h0M1030.8 572.4h0M1034.2 564.1h0M1034.3 567.2h0M1034.6 569.8h0M1032.1 567.3h0M1032.1 570h0M1032.5 572.3h0" stroke="#a9a9a9"/>
<g fill="#a9a9a9" stroke="#a9a9a9"><circle cx="998" cy="552.9" r="2.9"/><circle cx="990" cy="560.5" r="2.9"/></g>
<path d="M1036.8 572H1104.4L1104.4 617H1036.8Z" style="fill:#bebebe;stroke:none"/>
<path d="M1040.5 570.6h0M1041.6 569.8h0M1042.7 568.5h0M1043.8 565.1h0M1044.9 569.7h0M1046 569.8h0M1047.1 570.3h0M1048.2 569.9h0M1049.3 568.3h0M1050.4 571.1h0M1051.5 567.4h0M1052.6 571.5h0M1053.7 571.8h0M1054.8 570.8h0M1055.9 571.2h0M1057 570.9h0M1058.1 570.8h0M1059.2 570.2h0M1060.3 567.2h0M1061.4 572h0M1062.5 569.6h0M1063.6 572.1h0M1064.7 572.2h0M1065.8 572.5h0M1066.9 573h0M1068 572.7h0M1069.1 573.1h0M1070.2 573.8h0M1071.3 573.5h0M1072.4 572.9h0M1073.5 573.2h0M1074.6 573.3h0M1075.7 571.8h0M1076.8 569.5h0M1077.9 566.4h0M1079 570.7h0M1080.1 570.2h0M1081.2 569.2h0M1082.3 569.3h0M1083.4 566h0M1084.5 569.5h0M1085.6 568.7h0M1086.7 567.7h0M1087.8 569.6h0M1088.9 568h0M1090 566.3h0M1091.1 568.9h0M1092.2 570.5h0M1093.3 568.3h0M1094.4 570.2h0M1095.5 570.2h0M1096.6 569.1h0M1097.7 567.5h0M1098.8 569.2h0M1099.9 568.9h0M1100.7 572h0M1043.9 542.2h0M1043.9 545h0M1044.2 548.3h0M1043.8 550.8h0M1044 553.2h0M1044.3 555.7h0M1044.2 558.9h0M1044.2 562.2h0M1044.2 565.6h0M1044.2 567.9h0M1044.2 570.2h0M1041.5 565.9h0M1041.8 568.9h0M1041.7 571.9h0M1046.2 565.4h0M1046.4 568.7h0M1045.9 571.1h0M1061.1 556.2h0M1061.1 558.8h0M1061.4 561.1h0M1061.1 564.3h0M1061.3 567.6h0M1061.4 570.8h0M1059.2 566.7h0M1058.8 569.3h0M1058.9 572.5h0M1063.7 566.2h0M1063.5 569.1h0M1063.3 571.3h0M1074.3 560.5h0M1074.2 563.1h0M1074.4 566h0M1073.8 568.8h0M1074.3 571.7h0M1072.1 566.2h0M1071.7 569.4h0M1072 572.6h0M1076.6 565.6h0M1076.1 568.5h0M1076.4 571.4h0M1082.9 558.6h0M1083.5 560.9h0M1083.3 563.1h0M1083.1 566.4h0M1083.2 569.1h0M1083.2 571.8h0M1080.8 566.3h0M1081.3 569.5h0M1081.3 571.7h0M1085.5 565.6h0M1085.4 568.3h0M1085.7 571.7h0M1101.3 555h0M1101.6 557.5h0M1101.3 560.6h0M1101.3 563.2h0M1101.8 566.4h0M1101.7 569.5h0M1101.2 572.3h0M1099.3 565.4h0M1099.3 568.2h0M1099.3 570.9h0" stroke="#bebebe"/>
<g fill="#bebebe" stroke="#bebebe"><circle cx="1050.9" cy="559.2" r="2.9"/><circle cx="1078.3" cy="549.5" r="2.9"/><circle cx="1094.2" cy="559" r="2.9"/><circle cx="1087.5" cy="558.6" r="2.9"/></g>
<path d="M1104.4 572H1177.9L1178.7 617H1104.4Z" style="fill:#a9a9a9;stroke:none"/>
<path d="M1108.1 570h0M1109.2 570.9h0M1110.3 568.1h0M1111.4 568.5h0M1112.5 566.8h0M1113.6 568.4h0M1114.7 569.6h0M1115.8 568.9h0M1116.9 570.5h0M1118 568.5h0M1119.1 568.7h0M1120.2 566.9h0M1121.3 567.8h0M1122.4 569.1h0M1123.5 568h0M1124.6 568.8h0M1125.7 570.4h0M1126.8 570.7h0M1127.9 571.8h0M1129 571.3h0M1130.1 571.9h0M1131.2 570.2h0M1132.3 570.2h0M1133.4 572.5h0M1134.5 571.9h0M1135.6 571.2h0M1136.7 568.4h0M1137.8 572h0M1138.9 570.2h0M1140 571.1h0M1141.1 571.5h0M1142.2 571.5h0M1143.3 567.5h0M1144.4 565.3h0M1145.5 568.2h0M1146.6 571.9h0M1147.7 570.5h0M1148.8 570.1h0M1149.9 571.7h0M1151 572h0M1152.1 568.7h0M1153.2 570.7h0M1154.3 569.9h0M1155.4 570.8h0M1156.5 569.6h0M1157.6 570.5h0M1158.7 569h0M1159.8 566.1h0M1160.9 570.1h0M1162 571.2h0M1163.1 571.7h0M1164.2 570.7h0M1165.3 569.2h0M1166.4 572.9h0M1167.5 573.7h0M1168.6 573.8h0M1169.7 573.9h0M1170.8 573.6h0M1171.9 572.8h0M1173 572.8h0M1174.1 571.9h0M1174.2 572h0M1110 565.3h0M1110.1 568h0M1110 570.5h0M1107.8 568h0M1108.1 570.7h0M1112.3 569.1h0M1112.3 572.2h0M1117.3 562.9h0M1117.6 566.1h0M1117.5 569.1h0M1117.5 572.3h0M1115 566.3h0M1115.4 569.2h0M1115.3 572.5h0M1119.3 565.5h0M1119.6 568.8h0M1119.2 571.2h0M1118.4 562.9h0M1118.5 565.1h0M1118.7 568h0M1118.7 570.9h0M1116.3 566.7h0M1116.1 569.1h0M1116.1 571.4h0M1120.9 566.5h0M1120.9 569.8h0M1120.9 572.1h0M1134.2 565.9h0M1134.3 568.7h0M1134.1 571.3h0M1131.9 569.2h0M1132.4 571.7h0M1136.7 569.5h0M1136.7 572.8h0M1142.4 559.8h0M1142.1 562.8h0M1142.2 565.7h0M1142.4 567.9h0M1142.4 570.3h0M1140.3 566.8h0M1140.1 569h0M1140.2 571.9h0M1144.3 565.5h0M1144.3 568.8h0M1144.3 571.3h0M1161.5 555.8h0M1162 558.8h0M1161.7 561.7h0M1161.8 565h0M1161.8 568.1h0M1161.6 571h0M1159.7 566.7h0M1159.9 569.6h0M1159.5 573h0M1163.7 565.3h0M1164.2 568.1h0M1163.8 570.8h0M1164.1 556.8h0M1164.4 559.7h0M1164.4 562.2h0M1164.4 565.3h0M1164 567.7h0M1164.4 571h0M1162.3 566h0M1161.9 568.3h0M1161.8 571.5h0M1166.7 566.1h0M1166.3 569h0M1166.2 572.2h0M1158.8 561.7h0M1158.5 564.3h0M1158.5 567h0M1158.8 569.2h0M1159 572.3h0M1156.7 566.4h0M1156.8 569.3h0M1156.5 572.3h0M1160.8 565.4h0M1160.8 568.5h0M1161 571.2h0M1173.9 562.6h0M1173.7 565.1h0M1174.2 568.3h0M1174.1 571.1h0M1171.7 566.6h0M1171.7 569.2h0M1171.6 572.1h0M1169.2 562.3h0M1169 565.3h0M1168.9 568.1h0M1169.3 570.8h0M1168.9 573h0M1166.9 566.1h0M1167.2 569h0M1166.9 572.1h0M1171.1 566.2h0M1171.1 569.1h0M1171.5 571.4h0" stroke="#a9a9a9"/>
<g fill="#a9a9a9" stroke="#a9a9a9"><circle cx="1142.3" cy="541" r="2.9"/><circle cx="1150.2" cy="565.3" r="2.9"/></g>
<path d="M1180.4 572H1234.9L1235.3 617H1179.7Z" style="fill:#bebebe;stroke:none"/>
<path d="M1184.1 573.1h0M1185.2 574h0M1186.3 571.4h0M1187.4 572.6h0M1188.5 567.8h0M1189.6 572.8h0M1190.7 573.6h0M1191.8 572.1h0M1192.9 572.5h0M1194 572.1h0M1195.1 570.6h0M1196.2 570.4h0M1197.3 571.4h0M1198.4 571.4h0M1199.5 569.8h0M1200.6 567.9h0M1201.7 571.4h0M1202.8 569.5h0M1203.9 569.7h0M1205 566.4h0M1206.1 572.2h0M1207.2 566.1h0M1208.3 571h0M1209.4 569.8h0M1210.5 570.7h0M1211.6 569.7h0M1212.7 568.5h0M1213.8 567.9h0M1214.9 569.5h0M1216 569.7h0M1217.1 570.4h0M1218.2 570.3h0M1219.3 569.2h0M1220.4 572.7h0M1221.5 570h0M1222.6 572.7h0M1223.7 572.7h0M1224.8 573.8h0M1225.9 573.2h0M1227 572.6h0M1228.1 569.8h0M1229.2 571.7h0M1230.3 571.4h0M1231.2 572h0M1188.2 560.5h0M1187.7 563.4h0M1187.9 565.7h0M1188 568.4h0M1188 571h0M1186 566.6h0M1186 569h0M1185.5 571.6h0M1189.9 565.4h0M1190 568.1h0M1190.2 571h0M1191.6 556.2h0M1191.9 558.4h0M1191.9 561.2h0M1191.9 563.9h0M1192 566.7h0M1192 569.3h0M1191.9 572.3h0M1189.5 565.5h0M1189.5 568.1h0M1189.7 571.3h0M1194.1 566h0M1193.9 568.6h0M1194.1 571.9h0M1200.6 561.7h0M1201 565h0M1200.6 567.6h0M1200.8 570.5h0M1198.5 566.7h0M1198.5 570.1h0M1198.6 572.6h0M1202.8 566.4h0M1202.9 569.4h0M1203 572.7h0M1208.6 559.8h0M1208.8 563h0M1208.7 565.2h0M1208.5 568h0M1208.8 570.6h0M1206.8 566.6h0M1206.6 569.7h0M1206.7 572.1h0M1210.8 565.3h0M1211 567.7h0M1211.2 570.5h0M1211.2 572.7h0M1217 563.5h0M1216.9 566.4h0M1217.3 569h0M1217.4 572h0M1215.3 567h0M1214.9 569.5h0M1215 572.7h0M1219.1 567.5h0M1219.3 570.1h0M1219.5 573h0M1227.2 564.7h0M1226.9 567.9h0M1227.1 570.1h0M1226.9 572.7h0M1224.6 567.3h0M1224.8 569.6h0M1224.8 571.9h0M1228.9 568.2h0M1229 570.9h0M1232 565.3h0M1231.8 568h0M1231.8 571.1h0M1229.6 568.8h0M1229.6 571.8h0" stroke="#bebebe"/>
<g fill="#bebebe" stroke="#bebebe"><circle cx="1221.4" cy="554.6" r="2.9"/><circle cx="1228.8" cy="555.8" r="2.9"/></g>
<path d="M1237.3 572H1288.4L1289.4 617H1236.3Z" style="fill:#a9a9a9;stroke:none"/>
<path d="M1241 570.5h0M1242.1 565.1h0M1243.2 569.5h0M1244.3 568.8h0M1245.4 567.7h0M1246.5 568h0M1247.6 568.8h0M1248.7 565.7h0M1249.8 569h0M1250.9 567.9h0M1252 566.5h0M1253.1 570.7h0M1254.2 569.2h0M1255.3 571h0M1256.4 571.4h0M1257.5 569.6h0M1258.6 572.1h0M1259.7 571.7h0M1260.8 571.3h0M1261.9 571.1h0M1263 571.2h0M1264.1 570.2h0M1265.2 570.7h0M1266.3 571.8h0M1267.4 571.3h0M1268.5 572.4h0M1269.6 571.2h0M1270.7 571h0M1271.8 573.2h0M1272.9 571.7h0M1274 572.6h0M1275.1 570.4h0M1276.2 572.4h0M1277.3 571.9h0M1278.4 568.6h0M1279.5 571.1h0M1280.6 569.9h0M1281.7 569.2h0M1282.8 569.2h0M1283.9 567.8h0M1284.7 572h0M1245 549.5h0M1244.7 551.9h0M1245 555.1h0M1244.7 557.4h0M1244.8 559.8h0M1245.1 562.8h0M1244.8 566.1h0M1245 569.5h0M1245.2 571.9h0M1243 566h0M1242.8 569.3h0M1242.8 572.6h0M1246.9 566.2h0M1246.9 568.8h0M1247.3 571.8h0M1249.9 562.9h0M1250.1 565.9h0M1250.3 568.6h0M1250 570.8h0M1248.2 566.3h0M1247.8 569.4h0M1248.1 572.8h0M1252.2 565.8h0M1252.2 568.1h0M1252.5 570.5h0M1267.2 562.9h0M1267.1 565.9h0M1267 568.6h0M1267.3 571.3h0M1265 566h0M1264.6 569h0M1264.8 571.6h0M1269.2 566.5h0M1269.2 569.2h0M1269.6 572.1h0M1279.8 562.3h0M1280.1 565.2h0M1279.8 568.3h0M1279.9 570.6h0M1277.5 566.8h0M1277.8 569.3h0M1277.8 572.2h0M1282 565.9h0M1282.3 568.6h0M1282.2 571.3h0M1284.5 555h0M1284.3 558.2h0M1284.6 561.5h0M1284.4 564h0M1284.5 566.8h0M1284.3 569.3h0M1284.3 572.6h0M1282.2 566.2h0M1282 568.7h0M1282 572.1h0M1285.8 555.6h0M1285.9 558.8h0M1285.6 561.9h0M1285.3 565h0M1285.5 568.1h0M1285.8 570.3h0M1283.3 565.2h0M1283.3 568.2h0M1283.6 571.4h0" stroke="#a9a9a9"/>
<g fill="#a9a9a9" stroke="#a9a9a9"><circle cx="1268.3" cy="548.3" r="2.9"/><circle cx="1259.6" cy="559" r="2.9"/><circle cx="1240.9" cy="555" r="2.9"/></g>
<path d="M1291.6 572H1331.9L1331.9 617H1290.4Z" style="fill:#bebebe;stroke:none"/>
<path d="M1295.3 569.2h0M1296.4 571.5h0M1297.5 571.2h0M1298.6 573.3h0M1299.7 567.2h0M1300.8 570.6h0M1301.9 573.6h0M1303 573h0M1304.1 566.3h0M1305.2 566.9h0M1306.3 565.6h0M1307.4 571.5h0M1308.5 569.6h0M1309.6 569.7h0M1310.7 565.2h0M1311.8 570.2h0M1312.9 568.9h0M1314 565h0M1315.1 570h0M1316.2 564.6h0M1317.3 568.3h0M1318.4 565.7h0M1319.5 566.9h0M1320.6 568.2h0M1321.7 565.9h0M1322.8 569.5h0M1323.9 569.8h0M1325 569h0M1326.1 568.9h0M1327.2 569.4h0M1328.2 572h0M1297.5 562.3h0M1297.4 564.7h0M1297.6 567.2h0M1297.5 570h0M1295.6 566.6h0M1295.1 569.1h0M1295.4 571.8h0M1299.6 565.3h0M1299.6 568.6h0M1300 571.5h0M1297.3 562.6h0M1297.1 565.6h0M1297 568.4h0M1297.3 570.7h0M1295 566.2h0M1294.7 568.5h0M1294.9 571.4h0M1299.6 566.6h0M1299.2 569.2h0M1299.1 571.7h0M1311.9 558.6h0M1312 561.2h0M1312 563.5h0M1312.1 566.7h0M1311.8 569.2h0M1311.9 572.4h0M1309.3 566.4h0M1309.5 569.5h0M1309.6 572.5h0M1313.7 565.8h0M1314.1 568.6h0M1313.9 571.8h0M1321.7 566.5h0M1321.3 569.9h0M1321.6 572.8h0M1319.1 569.9h0M1319.1 572.3h0M1324 569h0M1323.8 571.4h0" stroke="#bebebe"/>
<g fill="#bebebe" stroke="#bebebe"><circle cx="1333.7" cy="554.4" r="2.9"/><circle cx="1330.7" cy="556.2" r="2.9"/><circle cx="1315.5" cy="559.2" r="2.9"/></g>
<path d="M1331.9 572H1377L1377 617H1331.9Z" style="fill:#a9a9a9;stroke:none"/>
<path d="M1335.6 571.7h0M1336.7 571.4h0M1337.8 572.1h0M1338.9 571.8h0M1340 571.2h0M1341.1 570.3h0M1342.2 569.7h0M1343.3 567.8h0M1344.4 571.7h0M1345.5 570.7h0M1346.6 566.9h0M1347.7 569.6h0M1348.8 570.9h0M1349.9 572.2h0M1351 568.9h0M1352.1 573.7h0M1353.2 572.9h0M1354.3 571.9h0M1355.4 574.4h0M1356.5 573h0M1357.6 572.9h0M1358.7 572.7h0M1359.8 572.3h0M1360.9 569.2h0M1362 569.2h0M1363.1 570.8h0M1364.2 571.2h0M1365.3 566.1h0M1366.4 566.2h0M1367.5 570.7h0M1368.6 571.5h0M1369.7 571.3h0M1370.8 571.3h0M1371.9 571.5h0M1373 570.3h0M1373.3 572h0M1346.1 561.7h0M1345.8 564.6h0M1346 567.3h0M1345.6 569.7h0M1346.1 572.7h0M1343.5 566.4h0M1343.8 569.3h0M1343.7 572.5h0M1348.3 566.2h0M1348 569.5h0M1347.8 572.3h0M1341 563.5h0M1340.8 566.7h0M1341.3 569.5h0M1341.2 572.6h0M1339 567h0M1339 569.7h0M1338.6 572.6h0M1343.3 567.3h0M1343.5 570h0M1343.3 572.3h0M1363 561.1h0M1362.7 563.7h0M1363.1 566h0M1363.1 568.3h0M1362.8 571.4h0M1360.5 565.4h0M1360.7 568.2h0M1360.8 570.9h0M1364.9 565.5h0M1365 568h0M1365.1 571.2h0M1375.3 560.5h0M1374.8 563.8h0M1375.1 566.9h0M1374.9 569.3h0M1375 572.1h0M1373.1 566.1h0M1373.1 569.3h0M1373.2 571.6h0M1379.4 558h0M1379.7 560.9h0M1379.7 563.2h0M1379.1 565.6h0M1379.4 568.9h0M1379.5 571.3h0" stroke="#a9a9a9"/>
<g fill="#a9a9a9" stroke="#a9a9a9"><circle cx="1334.9" cy="560.5" r="2.9"/><circle cx="1367.8" cy="563.1" r="2.9"/><circle cx="1380" cy="556.8" r="2.9"/></g>
<path d="M1377 572H1417.8L1417.8 617H1377Z" style="fill:#bebebe;stroke:none"/>
<path d="M1380.7 567.7h0M1381.8 569.5h0M1382.9 567.8h0M1384 569.6h0M1385.1 567.2h0M1386.2 569.1h0M1387.3 567.8h0M1388.4 569.5h0M1389.5 565.8h0M1390.6 565h0M1391.7 566.6h0M1392.8 570.2h0M1393.9 572h0M1395 571.2h0M1396.1 570.9h0M1397.2 569.9h0M1398.3 570.6h0M1399.4 567.2h0M1400.5 568.6h0M1401.6 567.6h0M1402.7 571.5h0M1403.8 570h0M1404.9 570.8h0M1406 572.4h0M1407.1 572.8h0M1408.2 573.1h0M1409.3 572h0M1410.4 570.6h0M1411.5 573.7h0M1412.6 573.9h0M1413.7 572.6h0M1414.1 572h0M1384.7 564.1h0M1384.9 566.8h0M1384.8 569.9h0M1384.9 572.6h0M1382.4 566.8h0M1382.8 569.5h0M1382.9 572.2h0M1387 566.7h0M1387.1 569.4h0M1387.1 571.9h0M1397 561.7h0M1397.2 564.9h0M1397.1 567.2h0M1397 569.9h0M1396.8 572.7h0M1395 565.7h0M1394.8 568.6h0M1394.8 571.1h0M1399 565.7h0M1399.2 568h0M1399.3 570.9h0M1404.9 562.9h0M1404.7 565.4h0M1405.1 568.3h0M1404.9 571.2h0M1402.5 566.2h0M1402.7 568.6h0M1402.7 571.6h0M1407 566.6h0M1407.3 569.1h0M1407.1 571.5h0M1415.3 563.5h0M1415.6 566.7h0M1415.3 569.5h0M1415.5 572.5h0M1413.2 567.4h0M1413.2 570h0M1413.4 572.4h0M1390.9 561.7h0M1390.6 564.9h0M1390.9 567.4h0M1390.8 569.8h0M1390.9 572.9h0M1388.6 566.2h0M1388.5 568.8h0M1388.3 571.3h0M1392.6 565.9h0M1393.1 568.4h0M1392.9 571.5h0" stroke="#bebebe"/>
<g fill="#bebebe" stroke="#bebebe"><circle cx="1390.7" cy="531.8" r="2.9"/><circle cx="1390.7" cy="533" r="2.9"/><circle cx="1390.7" cy="547.7" r="2.9"/><circle cx="1397.7" cy="552.5" r="2.9"/><circle cx="1390.7" cy="555.6" r="2.9"/></g>
<path d="M1417.8 572H1456.5L1456.5 617H1417.8Z" style="fill:#a9a9a9;stroke:none"/>
<path d="M1421.5 571.3h0M1422.6 572.9h0M1423.7 569.6h0M1424.8 572.1h0M1425.9 571.6h0M1427 571h0M1428.1 570h0M1429.2 570.2h0M1430.3 567.6h0M1431.4 567.8h0M1432.5 570.5h0M1433.6 568.4h0M1434.7 570.9h0M1435.8 570.2h0M1436.9 564.8h0M1438 571.3h0M1439.1 569.7h0M1440.2 565.1h0M1441.3 567.1h0M1442.4 569.4h0M1443.5 571.1h0M1444.6 570.7h0M1445.7 570.2h0M1446.8 567.5h0M1447.9 569.5h0M1449 570.9h0M1450.1 565.8h0M1451.2 570.5h0M1452.3 572.3h0M1452.8 572h0M1422.7 562.9h0M1422.7 565.5h0M1422.8 568.6h0M1422.7 571.9h0M1420.5 566.9h0M1420.3 569.4h0M1420.4 572.2h0M1424.6 565.5h0M1424.8 568h0M1424.9 571.3h0M1433.1 556.8h0M1433 559.4h0M1433 561.6h0M1432.8 564.7h0M1433.1 567.7h0M1433 570.7h0M1430.8 565.4h0M1431 567.9h0M1430.9 570.9h0M1435.2 566.2h0M1435 569.5h0M1435.2 572.6h0M1456 556.8h0M1456.1 559.3h0M1456 562.2h0M1455.9 564.7h0M1456.1 567.7h0M1456.2 570.4h0M1454.1 566.2h0M1454.2 568.7h0M1453.7 571.3h0M1460.2 561.1h0M1460.2 563.8h0M1460.1 566.3h0M1460.3 568.6h0M1460.2 571.4h0M1455.7 556.6h0M1456 559.2h0M1455.6 561.7h0M1455.6 564.4h0M1455.8 567.2h0M1456 569.8h0M1455.8 572h0M1453.9 565.3h0M1453.5 567.7h0M1453.5 570.9h0M1459.6 561.1h0M1459.7 563.7h0M1459.3 567h0M1459.6 570.3h0M1459.6 572.9h0" stroke="#a9a9a9"/>
<g fill="#a9a9a9" stroke="#a9a9a9"><circle cx="1422.6" cy="553.8" r="2.9"/><circle cx="1422.6" cy="557.4" r="2.9"/></g>
<path d="M1456.5 572H1485.7L1485.7 617H1456.5Z" style="fill:#bebebe;stroke:none"/>
<path d="M1460.2 570.9h0M1461.3 566h0M1462.4 571.3h0M1463.5 570.7h0M1464.6 569.3h0M1465.7 572h0M1466.8 569.8h0M1467.9 568.2h0M1469 569.5h0M1470.1 570.7h0M1471.2 570.2h0M1472.3 570.6h0M1473.4 572.1h0M1474.5 572.9h0M1475.6 573.3h0M1476.7 572.7h0M1477.8 568.8h0M1478.9 573.4h0M1480 573.1h0M1481.1 573.3h0M1482 572h0M1476.8 558.6h0M1476.3 561h0M1476.4 564.4h0M1476.7 567.5h0M1476.5 569.8h0M1476.3 572.6h0M1474.4 565.7h0M1474.5 568.3h0M1474.2 571h0M1478.5 565.8h0M1478.8 568.5h0M1478.5 571.3h0M1480.8 558.3h0M1481 560.9h0M1480.5 563.5h0M1480.7 565.8h0M1480.7 568.5h0M1480.8 571.7h0M1478.7 566.6h0M1478.7 569.1h0M1478.7 571.7h0M1483.3 565.5h0M1483 567.8h0M1483.1 570.5h0M1484.9 557.4h0M1485.2 560.4h0M1485.1 563.2h0M1485.1 565.6h0M1485.3 568.9h0M1485.2 572.2h0M1482.9 566.2h0M1482.8 569h0M1482.9 571.7h0" stroke="#bebebe"/>
<path d="M1485.7 572H1524L1524 617H1485.7Z" style="fill:#a9a9a9;stroke:none"/>
<path d="M1489.4 570.8h0M1490.5 572.7h0M1491.6 572h0M1492.7 570.8h0M1493.8 572.4h0M1494.9 568.6h0M1496 569.5h0M1497.1 571.6h0M1498.2 571.6h0M1499.3 570.3h0M1500.4 571h0M1501.5 567.4h0M1502.6 567.9h0M1503.7 570.2h0M1504.8 565.2h0M1505.9 567.4h0M1507 570h0M1508.1 570.2h0M1509.2 570.5h0M1510.3 568.8h0M1511.4 571.7h0M1512.5 572.5h0M1513.6 572.5h0M1514.7 571.5h0M1515.8 569.5h0M1516.9 571.9h0M1518 572.7h0M1519.1 570.3h0M1520.2 571.6h0M1520.3 572h0M1489.3 556.2h0M1489.3 559.2h0M1489.1 561.7h0M1489.6 564.8h0M1489.5 567.6h0M1489.6 570.3h0M1491.7 566.3h0M1491.4 569.6h0M1491.3 572.6h0M1493.9 559.2h0M1493.8 562.4h0M1493.6 565.4h0M1493.4 568.5h0M1493.7 571.9h0M1491.2 566.1h0M1491.3 568.5h0M1491.1 571.7h0M1495.6 566.2h0M1496 568.5h0M1495.8 571.8h0M1499.7 561.1h0M1499.6 563.5h0M1499.5 566.1h0M1499.5 568.7h0M1499.4 571.8h0M1497.4 566.2h0M1497.3 568.8h0M1497.4 571.2h0M1501.8 565.2h0M1501.6 568.6h0M1502.1 571.5h0M1507.9 566.5h0M1508 568.8h0M1508.3 571.4h0M1505.9 569.8h0M1506.2 572.3h0M1510.5 569.2h0M1510.5 571.7h0M1519 566.5h0M1519 569.7h0M1519.4 572.7h0M1516.9 569.2h0M1517.1 572.5h0M1521.6 569.3h0M1521.1 572.1h0" stroke="#a9a9a9"/>
<g fill="#a9a9a9" stroke="#a9a9a9"><circle cx="1498.2" cy="551" r="2.9"/><circle cx="1491.8" cy="553.1" r="2.9"/><circle cx="1516.5" cy="551.7" r="2.9"/><circle cx="1519.2" cy="558.3" r="2.9"/><circle cx="1510" cy="562.9" r="2.9"/><circle cx="1515.5" cy="562.9" r="2.9"/></g>
<path d="M1524 572H1548.6L1549 617H1524Z" style="fill:#bebebe;stroke:none"/>
<path d="M1527.7 572.5h0M1528.8 568.7h0M1529.9 571.3h0M1531 571h0M1532.1 572h0M1533.2 571.6h0M1534.3 567.5h0M1535.4 568.4h0M1536.5 571.6h0M1537.6 568.7h0M1538.7 570.5h0M1539.8 572.2h0M1540.9 567.4h0M1542 572.4h0M1543.1 571.9h0M1544.2 571.8h0M1544.9 572h0M1530.4 560.5h0M1530.3 563.8h0M1529.9 566.4h0M1530 568.9h0M1530.3 572.2h0M1527.7 566.6h0M1527.7 569.6h0M1527.8 572h0M1532.1 565.4h0M1532.5 568.2h0M1532.2 571.5h0M1543.5 561.7h0M1543.7 565h0M1543.4 568.1h0M1543.3 571.2h0M1541.2 565.3h0M1541.5 567.7h0M1541.2 570.1h0M1541.5 572.8h0M1545.8 565.5h0M1546 568.3h0M1546 570.7h0M1545.8 573h0M1537.6 560.5h0M1537.7 563h0M1537.3 565.3h0M1537.6 568.3h0M1537.6 571.6h0M1535.5 565.2h0M1535.3 567.8h0M1535.5 570.5h0M1539.8 565.8h0M1539.7 568.4h0M1539.7 571.5h0" stroke="#bebebe"/>
<g fill="#bebebe" stroke="#bebebe"><circle cx="1536.8" cy="555" r="2.9"/><circle cx="1542.9" cy="556.2" r="2.9"/></g>
<path d="M1549.6 572H1574L1574 617H1549.9Z" style="fill:#a9a9a9;stroke:none"/>
<path d="M1553.3 569.2h0M1554.4 569.5h0M1555.5 569.4h0M1556.6 567.2h0M1557.7 568.8h0M1558.8 570.2h0M1559.9 571h0M1561 571.1h0M1562.1 572h0M1563.2 570h0M1564.3 572.7h0M1565.4 571.1h0M1566.5 569.9h0M1567.6 571.7h0M1568.7 572.9h0M1569.8 571.3h0M1570.3 572h0M1554.3 567.8h0M1554.4 571h0M1552 571.6h0M1556.6 570.8h0M1569 567.8h0M1568.9 570.2h0M1567 570.4h0M1571 570.6h0" stroke="#a9a9a9"/>
<g fill="#a9a9a9" stroke="#a9a9a9"><circle cx="1555.7" cy="562.3" r="2.9"/><circle cx="1566.7" cy="564.7" r="2.9"/></g>
</g>
<line x1="66.1" x2="1642" y1="516.5" y2="516.5" stroke="#000" stroke-width="2.5" stroke-dasharray="10 10"/>
<path clip-path="url(#pc)" d="M141 525.1h0M141 531.8h0M141 541.6V625M330.7 242.7h0M330.8 574.8V625M390.8 .2h0M390.8 12.5h0M390.8 44.8h0M390.8 60.2V63.6M390.8 77V243M390.8 256.6V276.3M390.8 290.4V309M390.8 317.5h0M390.8 326.4h0M390.8 337.6h0M390.8 373.7h0M390.8 382.8V427.6M390.8 458h0M390.8 471.8V473.2M390.8 488.2V514.9M390.8 581V625M655.4 422h0M655.3 499.7V503.4M655.3 582.7V625M833 523.1h0M833 530.2V625M877.6 404.8h0M877.8 574.8h0M877.8 581V625M1016.8 475.2h0M1016.8 573.5V625M1021.3 411.5h0M1021.5 590.3V625M1431.2 522.5h0M1431.2 594V625M1443.7 524h0M1443.7 531V537M1443.7 545V552M1443.7 567V625M1467.5 399.7h0M1467.7 570.6V625M1564.2 495.2h0M1564.4 579.2h0M1564.4 584.8V625" fill="none" stroke="#ffa500" stroke-width="13.5" stroke-linecap="round"/>
<g stroke="#2b2b2b" stroke-width="2.3" fill="none">
<line x1="59.6" x2="66.1" y1="613.9" y2="613.9"/><line x1="59.6" x2="66.1" y1="480.5" y2="480.5"/><line x1="59.6" x2="66.1" y1="347.1" y2="347.1"/><line x1="59.6" x2="66.1" y1="213.7" y2="213.7"/><line x1="59.6" x2="66.1" y1="80.3" y2="80.3"/><line x1="199.9" x2="199.9" y1="614.3" y2="620.2"/><line x1="322.1" x2="322.1" y1="614.3" y2="620.2"/><line x1="431.4" x2="431.4" y1="614.3" y2="620.2"/><line x1="528.3" x2="528.3" y1="614.3" y2="620.2"/><line x1="620.6" x2="620.6" y1="614.3" y2="620.2"/><line x1="708.3" x2="708.3" y1="614.3" y2="620.2"/><line x1="790.6" x2="790.6" y1="614.3" y2="620.2"/><line x1="866.4" x2="866.4" y1="614.3" y2="620.2"/><line x1="937.6" x2="937.6" y1="614.3" y2="620.2"/><line x1="1006.8" x2="1006.8" y1="614.3" y2="620.2"/><line x1="1073.6" x2="1073.6" y1="614.3" y2="620.2"/><line x1="1140.3" x2="1140.3" y1="614.3" y2="620.2"/><line x1="1207" x2="1207" y1="614.3" y2="620.2"/><line x1="1262.6" x2="1262.6" y1="614.3" y2="620.2"/><line x1="1315.3" x2="1315.3" y1="614.3" y2="620.2"/><line x1="1358" x2="1358" y1="614.3" y2="620.2"/><line x1="1400.2" x2="1400.2" y1="614.3" y2="620.2"/><line x1="1440.2" x2="1440.2" y1="614.3" y2="620.2"/><line x1="1474.2" x2="1474.2" y1="614.3" y2="620.2"/><line x1="1505.1" x2="1505.1" y1="614.3" y2="620.2"/><line x1="1534.9" x2="1534.9" y1="614.3" y2="620.2"/><line x1="1561.4" x2="1561.4" y1="614.3" y2="620.2"/>
</g>
<g class="ax" text-anchor="end">
<text class="ax" transform="translate(54.7 621.5) scale(1 1.04)">0</text><text class="ax" transform="translate(54.7 488.1) scale(1 1.04)">10</text><text class="ax" transform="translate(54.7 354.7) scale(1 1.04)">20</text><text class="ax" transform="translate(54.7 221.3) scale(1 1.04)">30</text><text class="ax" transform="translate(54.7 87.9) scale(1 1.04)">40</text>
</g>
<g class="ax" text-anchor="middle">
<text class="ax" transform="translate(199.9 640.9) scale(1 1.04)">1</text><text class="ax" transform="translate(322.1 640.9) scale(1 1.04)">2</text><text class="ax" transform="translate(431.4 640.9) scale(1 1.04)">3</text><text class="ax" transform="translate(528.3 640.9) scale(1 1.04)">4</text><text class="ax" transform="translate(620.6 640.9) scale(1 1.04)">5</text><text class="ax" transform="translate(708.3 640.9) scale(1 1.04)">6</text><text class="ax" transform="translate(790.6 640.9) scale(1 1.04)">7</text><text class="ax" transform="translate(866.4 640.9) scale(1 1.04)">8</text><text class="ax" transform="translate(937.6 640.9) scale(1 1.04)">9</text><text class="ax" transform="translate(1006.8 640.9) scale(1 1.04)">10</text><text class="ax" transform="translate(1073.6 640.9) scale(1 1.04)">11</text><text class="ax" transform="translate(1140.3 640.9) scale(1 1.04)">12</text><text class="ax" transform="translate(1207 640.9) scale(1 1.04)">13</text><text class="ax" transform="translate(1262.6 640.9) scale(1 1.04)">14</text><text class="ax" transform="translate(1315.3 640.9) scale(1 1.04)">15</text><text class="ax" transform="translate(1358 640.9) scale(1 1.04)">16</text><text class="ax" transform="translate(1400.2 640.9) scale(1 1.04)">17</text><text class="ax" transform="translate(1440.2 640.9) scale(1 1.04)">18</text><text class="ax" transform="translate(1474.2 640.9) scale(1 1.04)">19</text><text class="ax" transform="translate(1505.1 640.9) scale(1 1.04)">20</text><text class="ax" transform="translate(1534.9 640.9) scale(1 1.04)">21</text><text class="ax" transform="translate(1561.4 640.9) scale(1 1.04)">22</text>
</g>
<text class="ti" transform="translate(853.7 672.2) scale(1 1.04)" text-anchor="middle">Chromosome</text>
<text class="ti" transform="translate(19.9 307.3) rotate(-90) scale(1 1.04)" text-anchor="middle">-log10(P)</text>
<g stroke="#000" stroke-width="1.9" fill="none">
<line x1="1403.9" y1="507.8" x2="1427.9" y2="519.8"/><line x1="1474.6" y1="518.4" x2="1446.8" y2="522.8"/>
</g>
<rect class="bx" x="103" y="483" width="76.3" height="27" rx="4.7"/><text class="lb" transform="translate(141.1 501.6) scale(1 1.07)">DNAJC11</text>
<rect class="bx" x="302.8" y="200.7" width="55.2" height="27" rx="4.7"/><text class="lb" transform="translate(330.4 219.2) scale(1 1.07)">HNMT</text>
<rect class="bx" x="361.1" y="16.1" width="59.2" height="27" rx="4.7"/><text class="lb" transform="translate(390.8 34.6) scale(1 1.07)">RFTN1</text>
<rect class="bx" x="619.9" y="379.8" width="70.7" height="27" rx="4.7"/><text class="lb" transform="translate(655.2 398.4) scale(1 1.07)">ADRA1B</text>
<rect class="bx" x="801.4" y="480.7" width="63.4" height="27" rx="4.7"/><text class="lb" transform="translate(833.1 499.3) scale(1 1.07)">MCPH1</text>
<rect class="bx" x="847.5" y="362.5" width="60.6" height="27" rx="4.7"/><text class="lb" transform="translate(877.8 381.1) scale(1 1.07)">ESRP1</text>
<rect class="bx" x="987.4" y="369.4" width="68.2" height="27" rx="4.7"/><text class="lb" transform="translate(1021.5 388) scale(1 1.07)">CYP2C8</text>
<rect class="bx" x="988" y="433.3" width="57.5" height="27" rx="4.7"/><text class="lb" transform="translate(1016.8 451.9) scale(1 1.07)">GRID1</text>
<rect class="bx" x="1434" y="357.7" width="67.3" height="27" rx="4.7"/><text class="lb" transform="translate(1467.6 376.3) scale(1 1.07)">OR10H2</text>
<rect class="bx" x="1547" y="453" width="69.1" height="27" rx="4.7"/><text class="lb" transform="translate(1581.6 471.6) scale(1 1.07)">ENTHD1</text>
<rect class="bx" x="1369.5" y="480.4" width="56.5" height="27" rx="4.7"/><text class="lb" transform="translate(1397.8 499) scale(1 1.07)">RIOK3</text>
<rect class="bx" x="1459.4" y="491.1" width="66.8" height="27" rx="4.7"/><text class="lb" transform="translate(1492.8 509.7) scale(1 1.07)">ZBTB7C</text>
</svg>
</body>
</html>
